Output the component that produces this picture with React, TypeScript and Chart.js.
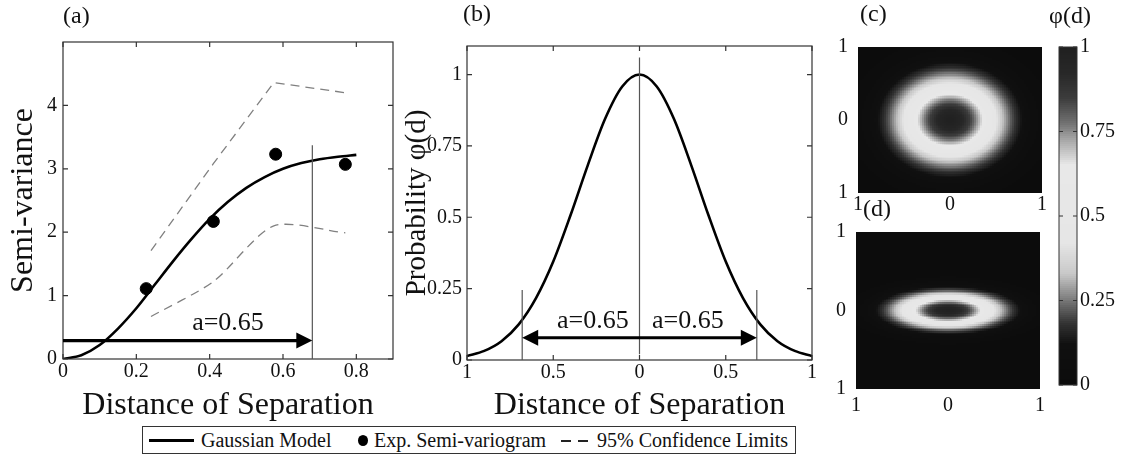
import React, { useEffect, useRef } from "react";
import { Chart, registerables } from "chart.js";
Chart.register(...registerables);

const FONT = "'Liberation Serif', 'DejaVu Serif', 'Times New Roman', serif";
const INK = "#111";

// ---------- Panel (a): semi-variogram ----------
const gaussX = [0, 0.05, 0.1, 0.15, 0.2, 0.25, 0.3, 0.35, 0.4, 0.45, 0.5, 0.55, 0.6, 0.65, 0.7, 0.75, 0.8];
const gaussY = [0, 0.06, 0.22, 0.48, 0.8, 1.17, 1.54, 1.89, 2.21, 2.48, 2.7, 2.87, 3.0, 3.09, 3.15, 3.19, 3.22];
const expX = [0.227, 0.41, 0.58, 0.77];
const expY = [1.11, 2.17, 3.23, 3.07];
const ciX = [0.24, 0.41, 0.575, 0.77];
const ciUpper = [1.71, 3.08, 4.36, 4.2];
const ciLower = [0.67, 1.22, 2.1, 1.99];
const aXTicks = [0, 0.2, 0.4, 0.6, 0.8];
const aYTicks = [0, 1, 2, 3, 4];
const rangeLabel = "a=0.65";
const rangeMarkA = 0.68;

// ---------- Panel (b): probability profile ----------
const distB = [-1, -0.9, -0.8, -0.7, -0.6, -0.5, -0.4, -0.3, -0.2, -0.1, 0, 0.1, 0.2, 0.3, 0.4, 0.5, 0.6, 0.7, 0.8, 0.9, 1];
const probB = [0.014, 0.032, 0.066, 0.125, 0.217, 0.345, 0.507, 0.682, 0.844, 0.958, 1, 0.958, 0.844, 0.682, 0.507, 0.345, 0.217, 0.125, 0.066, 0.032, 0.014];
const bXTicks = [-1, -0.5, 0, 0.5, 1];
const bYTicks = [0, 0.25, 0.5, 0.75, 1];
const rangeMarkB = 0.68;

// ---------- Panels (c), (d): 2-D probability maps ----------
const heatTicks = [-1, 0, 1];
const anisoC = 1.0;
const anisoD = 2.6;
const mapDistScale = 0.9;
const cbTicks = [0, 0.25, 0.5, 0.75, 1];
// grey colour map (value -> grey level)
const cmapVals = [0, 0.12, 0.18, 0.25, 0.33, 0.42, 0.65, 0.72, 0.78, 0.85, 0.92, 1];
const cmapGrey = [12, 16, 50, 120, 200, 230, 232, 170, 110, 60, 40, 32];

function lerpTable(xs: number[], ys: number[], v: number) {
  if (v <= xs[0]) return ys[0];
  for (let i = 1; i < xs.length; i++) {
    if (v <= xs[i]) {
      const t = (v - xs[i - 1]) / (xs[i] - xs[i - 1]);
      return ys[i - 1] + t * (ys[i] - ys[i - 1]);
    }
  }
  return ys[ys.length - 1];
}
function grey(v: number) {
  const g = Math.round(lerpTable(cmapVals, cmapGrey, v));
  return `rgb(${g},${g},${g})`;
}
const profD = distB.slice(10);
const profP = probB.slice(10);
function buildCells(aniso: number, n: number) {
  const out: { x: number; y: number; v: number }[] = [];
  const step = 2 / n;
  for (let i = 0; i < n; i++) {
    for (let j = 0; j < n; j++) {
      const x = -1 + (i + 0.5) * step;
      const y = -1 + (j + 0.5) * step;
      const d = mapDistScale * Math.sqrt(x * x + (aniso * y) * (aniso * y));
      out.push({ x, y, v: lerpTable(profD, profP, d) });
    }
  }
  return out;
}
const HEAT_N = 92;
const CB_N = 170;

// ---------- plugins ----------
const framePlugin = {
  id: "frame",
  afterDatasetsDraw(chart: any, _a: any, opts: any) {
    if (!opts || !opts.enabled) return;
    const { ctx, chartArea: ca, scales } = chart;
    ctx.save();
    ctx.strokeStyle = opts.color || "#333";
    ctx.lineWidth = opts.width || 1.2;
    if (opts.box !== false) ctx.strokeRect(ca.left, ca.top, ca.right - ca.left, ca.bottom - ca.top);
    const L = opts.tick || 5;
    ctx.beginPath();
    if (opts.xTicks !== false && scales.x && scales.x.options.display !== false) {
      for (const t of scales.x.ticks) {
        const px = scales.x.getPixelForValue(t.value);
        ctx.moveTo(px, ca.bottom); ctx.lineTo(px, ca.bottom - L);
        ctx.moveTo(px, ca.top); ctx.lineTo(px, ca.top + L);
      }
    }
    if (opts.yTicks !== false) {
      for (const t of scales.y.ticks) {
        const py = scales.y.getPixelForValue(t.value);
        ctx.moveTo(ca.left, py); ctx.lineTo(ca.left + L, py);
        ctx.moveTo(ca.right, py); ctx.lineTo(ca.right - L, py);
      }
    }
    ctx.stroke();
    ctx.restore();
  },
};

function arrowHead(ctx: any, x: number, y: number, dir: number, len: number, half: number) {
  ctx.beginPath();
  ctx.moveTo(x, y);
  ctx.lineTo(x - dir * len, y - half);
  ctx.lineTo(x - dir * len, y + half);
  ctx.closePath();
  ctx.fill();
}

const marksPlugin = {
  id: "marks",
  afterDatasetsDraw(chart: any, _a: any, opts: any) {
    if (!opts) return;
    const { ctx, scales } = chart;
    const xs = scales.x, ys = scales.y;
    ctx.save();
    for (const v of opts.vlines || []) {
      ctx.strokeStyle = "#555";
      ctx.lineWidth = 1.2;
      ctx.beginPath();
      const px = xs.getPixelForValue(v.x);
      ctx.moveTo(px, ys.getPixelForValue(v.y0));
      ctx.lineTo(px, ys.getPixelForValue(v.y1));
      ctx.stroke();
    }
    for (const a of opts.arrows || []) {
      const y = ys.getPixelForValue(a.y);
      const x0 = xs.getPixelForValue(a.x0);
      const x1 = xs.getPixelForValue(a.x1);
      const len = 16, half = 8;
      ctx.strokeStyle = "#000";
      ctx.fillStyle = "#000";
      ctx.lineWidth = 3.2;
      ctx.beginPath();
      ctx.moveTo(a.both ? x0 + len - 2 : x0, y);
      ctx.lineTo(x1 - len + 2, y);
      ctx.stroke();
      arrowHead(ctx, x1, y, 1, len, half);
      if (a.both) arrowHead(ctx, x0, y, -1, len, half);
    }
    for (const t of opts.labels || []) {
      ctx.fillStyle = INK;
      ctx.font = `${t.size || 26}px ${FONT}`;
      ctx.textAlign = "center";
      ctx.textBaseline = "alphabetic";
      ctx.fillText(t.text, xs.getPixelForValue(t.x), ys.getPixelForValue(t.y));
    }
    ctx.restore();
  },
};

const textsPlugin = {
  id: "texts",
  afterDraw(chart: any, _a: any, opts: any) {
    if (!opts || !opts.items) return;
    const { ctx } = chart;
    ctx.save();
    for (const t of opts.items) {
      ctx.fillStyle = INK;
      ctx.font = `${t.size}px ${FONT}`;
      ctx.textAlign = t.align || "left";
      ctx.textBaseline = "middle";
      ctx.fillText(t.text, t.px, t.py);
    }
    ctx.restore();
  },
};

const cellsPlugin = {
  id: "cells",
  beforeDatasetsDraw(chart: any, _a: any, opts: any) {
    if (!opts || !opts.enabled) return;
    const { ctx, scales } = chart;
    const xs = scales.x, ys = scales.y;
    const dx = opts.dx / 2, dy = opts.dy / 2;
    ctx.save();
    for (const ds of chart.data.datasets) {
      for (const c of ds.data as any[]) {
        const x1 = Math.round(xs.getPixelForValue(c.x - dx));
        const x2 = Math.round(xs.getPixelForValue(c.x + dx));
        const y1 = Math.round(ys.getPixelForValue(c.y + dy));
        const y2 = Math.round(ys.getPixelForValue(c.y - dy));
        ctx.fillStyle = grey(c.v);
        ctx.fillRect(x1, y1, x2 - x1, y2 - y1);
      }
    }
    ctx.restore();
  },
};

const setTicks = (vals: number[]) => (s: any) => {
  s.ticks = vals.map((v) => ({ value: v }));
};
const fixW = (w: number) => (s: any) => { s.width = w; };
const fixH = (h: number) => (s: any) => { s.height = h; };
const tickFont = { family: FONT, size: 20 };
const absLabel = (v: any) => String(Math.abs(Number(v)));

const pts = (xs: number[], ys: number[]) => xs.map((x, i) => ({ x, y: ys[i] }));

// ---------- chart configs ----------
function configA(): any {
  return {
    type: "line",
    data: {
      datasets: [
        { type: "scatter", label: "Exp. Semi-variogram", data: pts(expX, expY), pointRadius: 6, pointBackgroundColor: "#000", pointBorderColor: "#000", showLine: false },
        { label: "Gaussian Model", data: pts(gaussX, gaussY), borderColor: "#000", borderWidth: 2.6, pointRadius: 0, cubicInterpolationMode: "monotone", fill: false },
        { label: "95% Confidence Limits", data: pts(ciX, ciUpper), borderColor: "#808080", borderWidth: 1.3, borderDash: [9, 6], pointRadius: 0, tension: 0, fill: false },
        { label: "95% Confidence Limits (lower)", data: pts(ciX, ciLower), borderColor: "#808080", borderWidth: 1.3, borderDash: [9, 6], pointRadius: 0, tension: 0.25, fill: false },
      ],
    },
    options: {
      responsive: false, animation: false, devicePixelRatio: 1,
      layout: { padding: { left: 0, top: 42, right: 7, bottom: 0 } },
      plugins: {
        legend: { display: false }, tooltip: { enabled: false },
        frame: { enabled: true },
        marks: {
          vlines: [{ x: rangeMarkA, y0: 0, y1: 3.37 }],
          arrows: [{ x0: 0, x1: rangeMarkA, y: 0.29 }],
          labels: [{ text: rangeLabel, x: 0.45, y: 0.46 }],
        },
        texts: { items: [{ text: "(a)", px: 63, py: 17, size: 24 }] },
      },
      scales: {
        x: {
          type: "linear", min: 0, max: 0.9,
          afterBuildTicks: setTicks(aXTicks), afterFit: fixH(66),
          grid: { display: false, drawTicks: false }, border: { display: false },
          ticks: { font: tickFont, color: INK, padding: 1, autoSkip: false, maxRotation: 0, callback: (v: any) => String(v) },
          title: { display: true, text: "Distance of Separation", font: { family: FONT, size: 32 }, color: INK, padding: { top: 4, bottom: 0 } },
        },
        y: {
          type: "linear", min: 0, max: 5,
          afterBuildTicks: setTicks(aYTicks), afterFit: fixW(63),
          grid: { display: false, drawTicks: false }, border: { display: false },
          ticks: { font: tickFont, color: INK, padding: 6, autoSkip: false, callback: (v: any) => String(v) },
          title: { display: true, text: "Semi-variance", font: { family: FONT, size: 32 }, color: INK, padding: { top: 4, bottom: 0 } },
        },
      },
    },
    plugins: [framePlugin, marksPlugin, textsPlugin],
  };
}

function configB(): any {
  return {
    type: "line",
    data: {
      datasets: [
        { label: "φ(d)", data: pts(distB, probB), borderColor: "#000", borderWidth: 2.6, pointRadius: 0, cubicInterpolationMode: "monotone", fill: false },
      ],
    },
    options: {
      responsive: false, animation: false, devicePixelRatio: 1,
      layout: { padding: { left: 0, top: 46, right: 8, bottom: 0 } },
      plugins: {
        legend: { display: false }, tooltip: { enabled: false },
        frame: { enabled: true },
        marks: {
          vlines: [
            { x: 0, y0: 0.02, y1: 1.06 },
            { x: -rangeMarkB, y0: 0, y1: 0.245 },
            { x: rangeMarkB, y0: 0, y1: 0.245 },
          ],
          arrows: [{ x0: -rangeMarkB, x1: rangeMarkB, y: 0.078, both: true }],
          labels: [
            { text: rangeLabel, x: -0.27, y: 0.112 },
            { text: rangeLabel, x: 0.28, y: 0.112 },
          ],
        },
        texts: { items: [{ text: "(b)", px: 63, py: 15, size: 24 }] },
      },
      scales: {
        x: {
          type: "linear", min: -1, max: 1,
          afterBuildTicks: setTicks(bXTicks), afterFit: fixH(65),
          grid: { display: false, drawTicks: false }, border: { display: false },
          ticks: { font: tickFont, color: INK, padding: 1, autoSkip: false, maxRotation: 0, callback: absLabel },
          title: { display: true, text: "Distance of Separation", font: { family: FONT, size: 32 }, color: INK, padding: { top: 2, bottom: 0 } },
        },
        y: {
          type: "linear", min: 0, max: 1.1,
          afterBuildTicks: setTicks(bYTicks), afterFit: fixW(67),
          grid: { display: false, drawTicks: false }, border: { display: false },
          ticks: { font: tickFont, color: INK, padding: 5, autoSkip: false, callback: (v: any) => String(v) },
          title: { display: true, text: "Probability φ(d)", font: { family: FONT, size: 29 }, color: INK, padding: { top: 0, bottom: 0 } },
        },
      },
    },
    plugins: [framePlugin, marksPlugin, textsPlugin],
  };
}

function configHeat(aniso: number, pad: any, xH: number, yW: number, xPad: number, label: any): any {
  return {
    type: "scatter",
    data: { datasets: [{ label: "φ(d)", data: buildCells(aniso, HEAT_N), pointRadius: 0, pointHoverRadius: 0 }] },
    options: {
      responsive: false, animation: false, devicePixelRatio: 1,
      layout: { padding: pad },
      plugins: {
        legend: { display: false }, tooltip: { enabled: false },
        cells: { enabled: true, dx: 2 / HEAT_N, dy: 2 / HEAT_N },
        texts: { items: [label] },
      },
      scales: {
        x: {
          type: "linear", min: -1, max: 1,
          afterBuildTicks: setTicks(heatTicks), afterFit: fixH(xH),
          grid: { display: false, drawTicks: false }, border: { display: false },
          ticks: { font: tickFont, color: INK, padding: xPad, autoSkip: false, maxRotation: 0, callback: absLabel },
        },
        y: {
          type: "linear", min: -1, max: 1,
          afterBuildTicks: setTicks(heatTicks), afterFit: fixW(yW),
          grid: { display: false, drawTicks: false }, border: { display: false },
          ticks: { font: tickFont, color: INK, padding: 10, autoSkip: false, callback: absLabel },
        },
      },
    },
    plugins: [cellsPlugin, textsPlugin],
  };
}

function configBar(): any {
  const data: { x: number; y: number; v: number }[] = [];
  for (let j = 0; j < CB_N; j++) {
    const y = (j + 0.5) / CB_N;
    data.push({ x: 0.5, y, v: y });
  }
  return {
    type: "scatter",
    data: { datasets: [{ label: "colour bar", data, pointRadius: 0, pointHoverRadius: 0 }] },
    options: {
      responsive: false, animation: false, devicePixelRatio: 1,
      layout: { padding: { left: 9, top: 47, right: 0, bottom: 13 } },
      plugins: {
        legend: { display: false }, tooltip: { enabled: false },
        cells: { enabled: true, dx: 1, dy: 1 / CB_N },
        frame: { enabled: true, color: "#333", width: 1, tick: 4, xTicks: false },
        texts: { items: [{ text: "φ(d)", px: 20, py: 17, size: 24, align: "center" }] },
      },
      scales: {
        x: { type: "linear", min: 0, max: 1, display: false },
        y: {
          type: "linear", min: 0, max: 1, position: "right",
          afterBuildTicks: setTicks(cbTicks), afterFit: fixW(45),
          grid: { display: false, drawTicks: false }, border: { display: false },
          ticks: { font: tickFont, color: INK, padding: 3, autoSkip: false, callback: (v: any) => String(v) },
        },
      },
    },
    plugins: [cellsPlugin, framePlugin, textsPlugin],
  };
}

function ChartBox(props: { left: number; top: number; width: number; height: number; make: () => any }) {
  const ref = useRef<HTMLCanvasElement>(null);
  useEffect(() => {
    const chart = new Chart(ref.current as HTMLCanvasElement, props.make());
    return () => chart.destroy();
  }, []);
  const { left, top, width, height } = props;
  return (
    <div style={{ position: "absolute", left, top, width, height }}>
      <canvas ref={ref} width={width} height={height} style={{ width, height, display: "block" }} />
    </div>
  );
}

const legendText: React.CSSProperties = { position: "absolute", top: 0, height: 26, lineHeight: "26px", fontFamily: FONT, fontSize: 20, color: INK, whiteSpace: "nowrap" };

function Legend() {
  return (
    <div style={{ position: "absolute", left: 142, top: 426, width: 652, height: 26, border: "1.5px solid #333", background: "#fff" }}>
      <div style={{ position: "absolute", left: 6, top: 12, width: 45, height: 3, background: "#000" }} />
      <div style={{ ...legendText, left: 58 }}>Gaussian Model</div>
      <div style={{ position: "absolute", left: 215, top: 8, width: 10, height: 11, borderRadius: "50%", background: "#000" }} />
      <div style={{ ...legendText, left: 231 }}>Exp. Semi-variogram</div>
      <div style={{ position: "absolute", left: 418, top: 13, width: 10, height: 1.5, background: "#222" }} />
      <div style={{ position: "absolute", left: 435, top: 13, width: 10, height: 1.5, background: "#222" }} />
      <div style={{ ...legendText, left: 454 }}>95% Confidence Limits</div>
    </div>
  );
}

export default function App() {
  return (
    <div style={{ position: "fixed", left: 0, top: 0, width: 1122, height: 462, background: "#fff", overflow: "hidden" }}>
      <ChartBox left={0} top={0} width={400} height={425} make={configA} />
      <ChartBox left={400} top={0} width={420} height={425} make={configB} />
      <ChartBox left={820} top={0} width={230} height={215}
        make={() => configHeat(anisoC, { left: 0, top: 47, right: 8, bottom: 0 }, 22, 38, 0, { text: "(c)", px: 40, py: 15, size: 24 })} />
      <ChartBox left={820} top={200} width={230} height={222}
        make={() => configHeat(anisoD, { left: 0, top: 32, right: 5, bottom: 0 }, 33, 36, 5, { text: "(d)", px: 43, py: 10, size: 24 })} />
      <ChartBox left={1050} top={0} width={72} height={400} make={configBar} />
      <Legend />
    </div>
  );
}
